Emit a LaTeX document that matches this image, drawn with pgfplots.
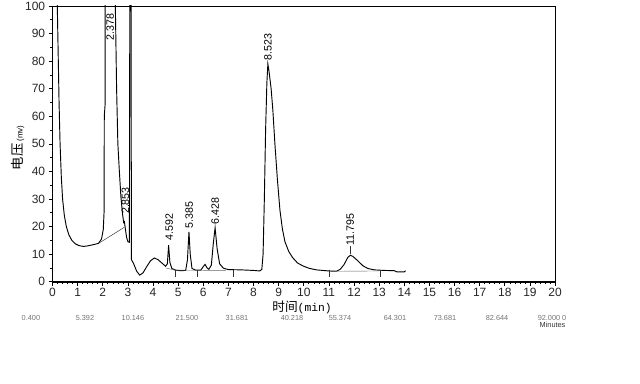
\documentclass[border=0pt]{standalone}
\usepackage{fontspec}
\setmainfont{Liberation Sans}
\setmonofont{Liberation Mono}
\newfontfamily\cjk{Noto Sans CJK SC}
\usepackage{pgfplots}
\pgfplotsset{compat=1.18}
\begin{document}
\begin{tikzpicture}
\begin{axis}[
  name=ax,
  at={(0,0)}, anchor=south west,
  scale only axis,
  width=376.9pt, height=206.8pt,
  xmin=0, xmax=20, ymin=0, ymax=100,
  xtick={0,1,...,20}, ytick={0,10,...,100},
  minor x tick num=4, minor y tick num=1,
  xtick pos=bottom, ytick pos=left,
  tick align=outside,
  major tick length=3pt, minor tick length=1.8pt,
  every tick/.style={black, line width=0.5pt},
  ticklabel style={font=\fontsize{9}{10}\selectfont, text=black!85},
  /pgf/number format/assume math mode=true,
  xticklabel style={yshift=2pt},
  yticklabel style={xshift=1pt},
  axis line style={line width=0.6pt},
  clip mode=individual,
]
% chromatogram trace
\addplot[black, line width=0.7pt] coordinates {
(0.10,140) (0.15,105) (0.19,100) (0.22,85) (0.26,65) (0.30,50) (0.35,38) (0.40,30)
(0.47,24) (0.55,20) (0.65,17) (0.77,15) (0.90,13.8) (1.05,13.1) (1.23,12.8) (1.40,13.0)
(1.60,13.4) (1.83,13.9) (1.95,15.5) (2.02,19) (2.05,25) (2.06,60) (2.09,64) (2.10,130)
(2.46,130) (2.50,100) (2.55,70) (2.60,50) (2.66,40) (2.72,31) (2.78,25) (2.83,21.5)
(2.86,21.8) (2.90,19) (2.95,16) (3.00,14.5) (3.06,14.3) (3.08,130) (3.12,130) (3.14,8)
(3.22,6.7) (3.35,3.8) (3.47,2.4) (3.60,3.2) (3.75,5.5) (3.90,7.6) (4.05,8.6) (4.20,8)
(4.35,6.8) (4.50,5.6) (4.57,6.5) (4.62,13.3) (4.67,7) (4.75,4.8) (4.90,4.2) (5.10,4.0)
(5.30,4.1) (5.37,8) (5.43,18.1) (5.48,10) (5.55,4.8) (5.70,4.2) (5.90,4.2) (6.00,5.5)
(6.07,6.3) (6.15,5) (6.22,4.5) (6.32,6) (6.40,14) (6.47,19.6) (6.55,12) (6.65,6.5)
(6.80,4.9) (7.00,4.4) (7.50,4.3) (8.00,4.1) (8.25,3.9) (8.33,4.5) (8.38,10) (8.43,30)
(8.48,55) (8.53,72) (8.57,79) (8.62,76) (8.70,70) (8.77,62) (8.85,50) (8.95,37)
(9.05,26) (9.15,19) (9.25,14.5) (9.40,11) (9.55,8.8) (9.75,6.8) (9.95,5.8) (10.20,4.9)
(10.50,4.3) (11.00,3.9) (11.30,3.8) (11.45,4.5) (11.60,6.2) (11.75,8.8) (11.85,9.6)
(11.95,9.2) (12.15,7.6) (12.35,5.8) (12.55,4.8) (12.80,4.3) (13.20,4.1) (13.60,4.0)
(13.70,3.6) (14.00,3.6) (14.05,4.0)
};
% integration baselines and markers
\addplot[black!80, line width=0.35pt] coordinates {(1.83,13.9) (2.85,19.7)};
\addplot[black!60, line width=0.3pt] coordinates {(4.50,5.0) (4.87,4.2) (6.90,4.1)};
\addplot[black!60, line width=0.3pt] coordinates {(11.30,3.8) (13.00,3.9)};
\addplot[black!80, line width=0.35pt] coordinates {(4.87,4.3) (4.87,1.8)};
\addplot[black!80, line width=0.35pt] coordinates {(5.76,4.2) (5.76,1.8)};
\addplot[black!80, line width=0.35pt] coordinates {(7.20,4.3) (7.20,1.8)};
\addplot[black!80, line width=0.35pt] coordinates {(11.00,4.4) (11.00,1.8)};
\addplot[black!80, line width=0.35pt] coordinates {(13.03,4.4) (13.03,1.8)};
\addplot[black!80, line width=0.35pt] coordinates {(11.85,10) (11.85,12.8)};
% peak labels
\begin{scope}[every node/.style={rotate=90, anchor=west, inner sep=0pt, font=\fontsize{8}{9}\selectfont}]
\node at (axis cs:2.30,87.5) {2.378};
\node at (axis cs:2.90,24.5) {2.853};
\node at (axis cs:4.64,14.8) {4.592};
\node at (axis cs:5.44,19.3) {5.385};
\node at (axis cs:6.47,20.8) {6.428};
\node at (axis cs:8.57,80.3) {8.523};
\node at (axis cs:11.85,13.0) {11.795};
\end{scope}
% secondary (clipped) time row
\begin{scope}[every node/.style={inner sep=0pt, text=black!55, font=\fontsize{5.5}{6}\selectfont}]
\node at (axis cs:-0.86,-13.2) {0.400};
\node at (axis cs:1.29,-13.2) {5.392};
\node at (axis cs:3.20,-13.2) {10.146};
\node at (axis cs:5.35,-13.2) {21.500};
\node at (axis cs:7.34,-13.2) {31.681};
\node at (axis cs:9.53,-13.2) {40.218};
\node at (axis cs:11.44,-13.2) {55.374};
\node at (axis cs:13.63,-13.2) {64.301};
\node at (axis cs:15.62,-13.2) {73.681};
\node at (axis cs:17.69,-13.2) {82.644};
\node at (axis cs:19.88,-13.2) {92.000 0};
\node[text=black!80] at (axis cs:19.90,-15.6) {Minutes};
\end{scope}
\end{axis}
% thicker left and bottom frame
\draw[line width=1.3pt] (ax.north west) -- (ax.south west) -- (ax.south east);
\node[font=\fontsize{9.5}{10}\selectfont, inner sep=0pt] at ([xshift=-1.3pt,yshift=-19.5pt]ax.south) {{\cjk 时间}{\ttfamily\fontsize{8.5}{9}\selectfont (min)}};
\node[rotate=90, font=\fontsize{10}{11}\selectfont] at ([xshift=-26pt,yshift=-3pt]ax.west) {{\cjk 电压}\,{\fontsize{6}{7}\selectfont (mv)}};
\pgfresetboundingbox
\path[use as bounding box] (-39.4pt,-76.7pt) rectangle (440.6pt,211.3pt);
\end{tikzpicture}
\end{document}
